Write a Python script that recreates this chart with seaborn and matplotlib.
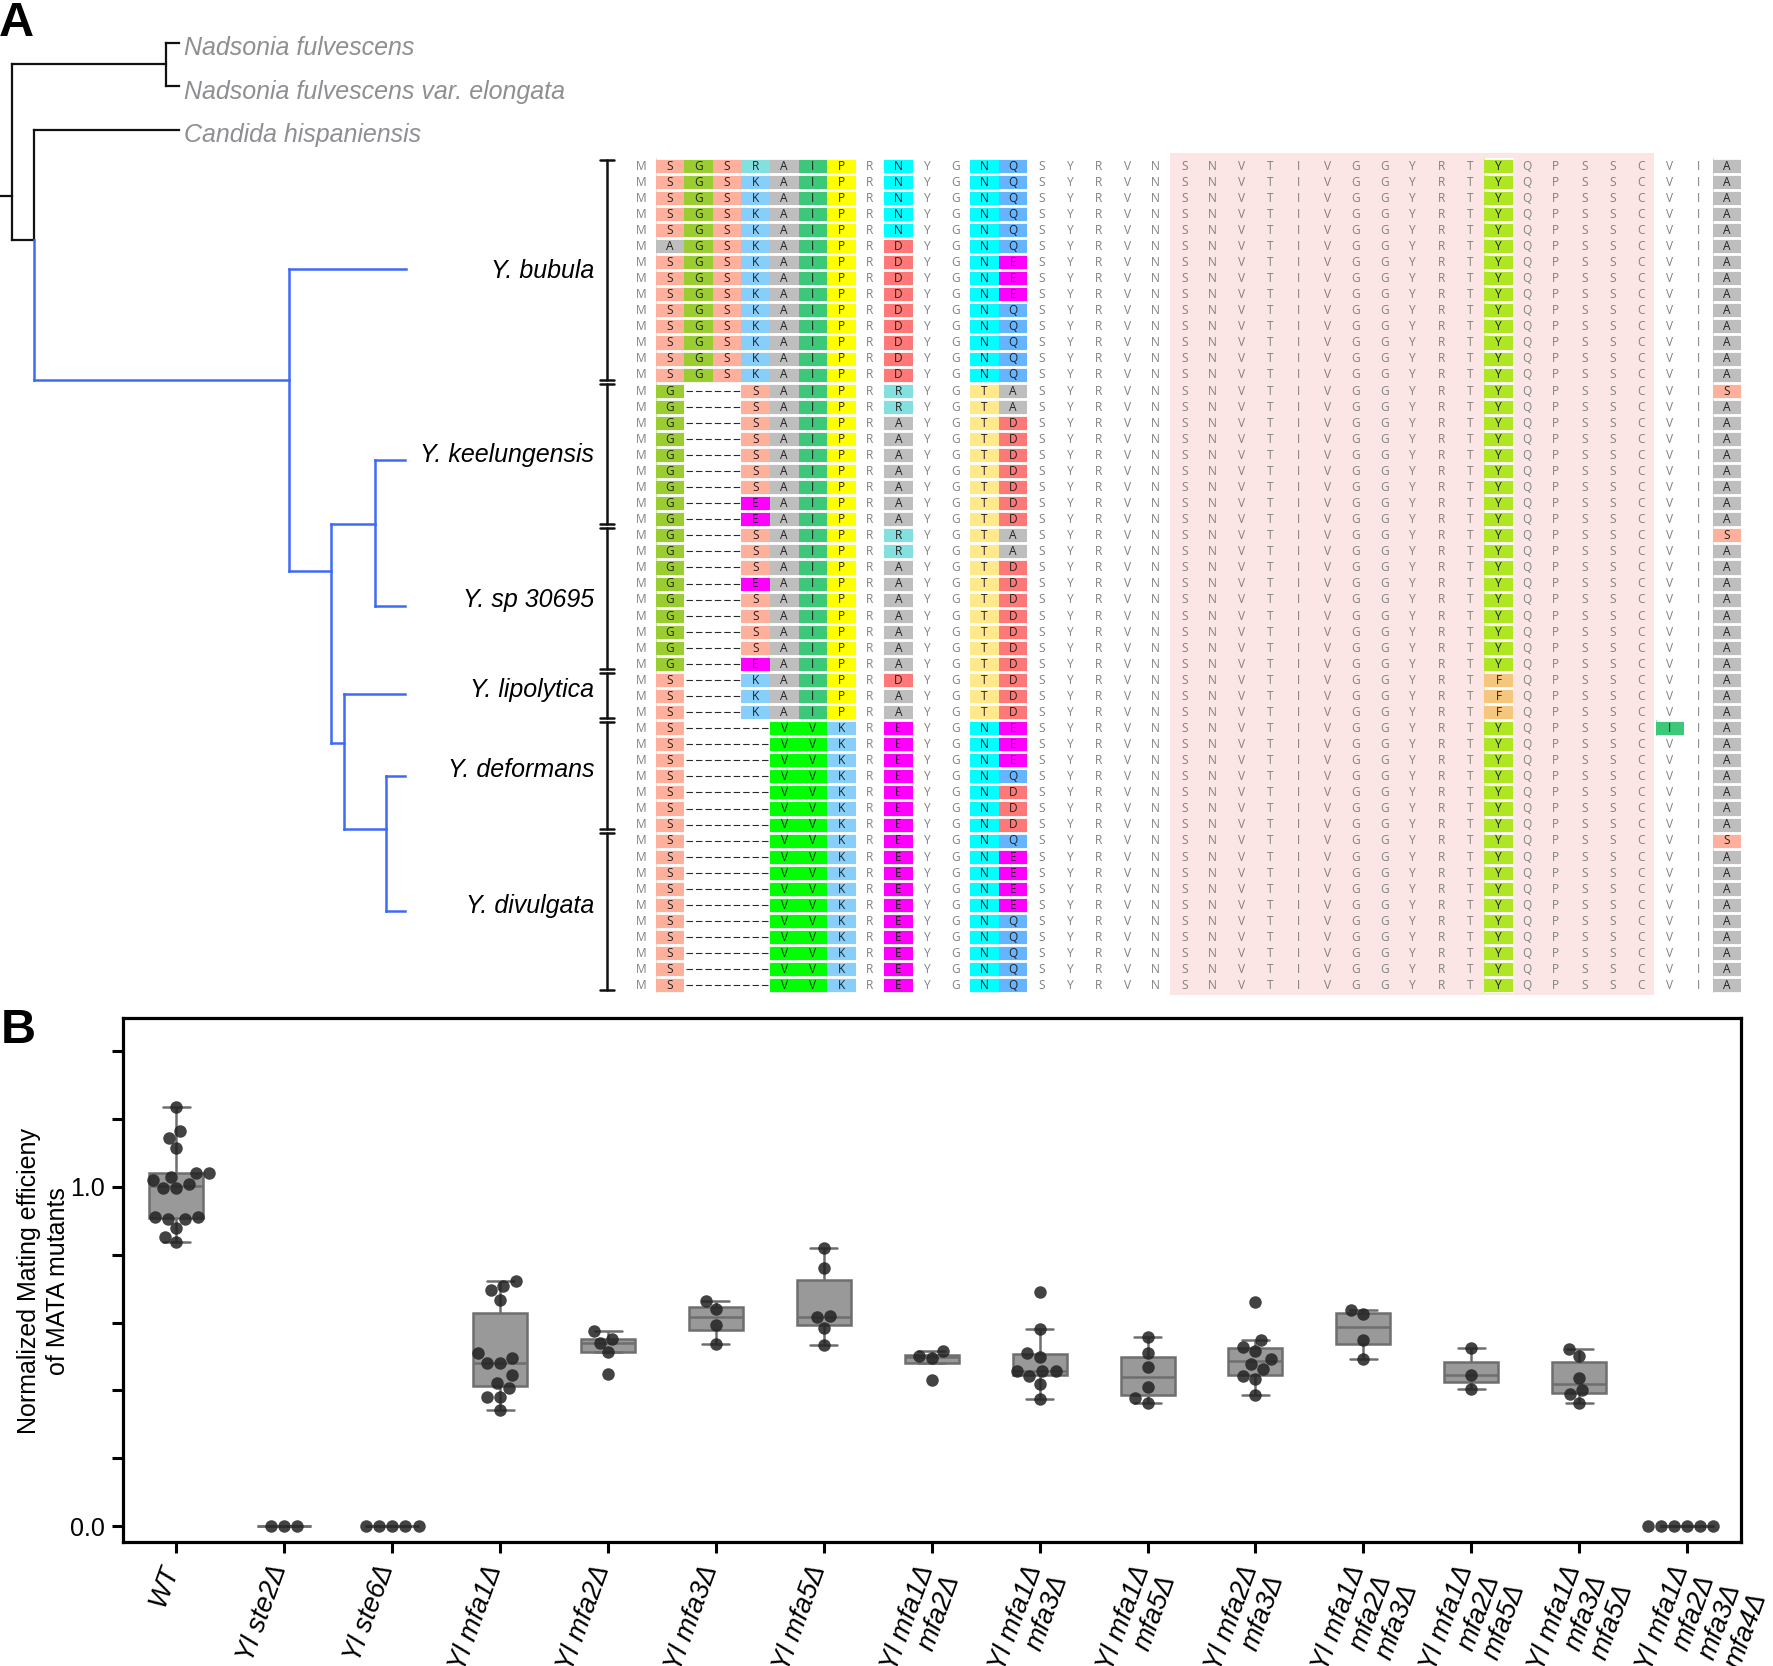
import numpy as np
import pandas as pd
import matplotlib
matplotlib.use("Agg")
import matplotlib.pyplot as plt
from matplotlib.colors import ListedColormap
from matplotlib.patches import Rectangle
from matplotlib.ticker import MultipleLocator, FixedLocator, NullFormatter
from matplotlib.transforms import ScaledTranslation
import seaborn as sns

W, H = 1773, 1666

# ---------- panel A data ----------
ALN_HEAD = (["MSGSRAIPRNYGNQ"] + ["MSGSKAIPRNYGNQ"] * 4 + ["MAGSKAIPRDYGNQ"]
            + ["MSGSKAIPRDYGNE"] * 3 + ["MSGSKAIPRDYGNQ"] * 5
            + ["MG--SAIPRRYGTA"] * 2 + ["MG--SAIPRAYGTD"] * 5 + ["MG--EAIPRAYGTD"] * 2
            + ["MG--SAIPRRYGTA"] * 2 + ["MG--SAIPRAYGTD"] + ["MG--EAIPRAYGTD"]
            + ["MG--SAIPRAYGTD"] * 4 + ["MG--EAIPRAYGTD"]
            + ["MS--KAIPRDYGTD"] + ["MS--KAIPRAYGTD"] * 2
            + ["MS---VVKREYGNE"] * 3 + ["MS---VVKREYGNQ"] + ["MS---VVKREYGND"] * 3
            + ["MS---VVKREYGNQ"] + ["MS---VVKREYGNE"] * 4 + ["MS---VVKREYGNQ"] * 5)
ALN_MID = "SYRVNSNVTIVGGYRT"
ALN_COL30 = ["Y"] * 32 + ["F"] * 3 + ["Y"] * 17
ALN_MID2 = "QPSSC"
ALN_COL36 = ["V"] * 35 + ["I"] + ["V"] * 16
ALN_COL37 = "I"
ALN_COL38 = ["A"] * 14 + ["S"] + ["A"] * 8 + ["S"] + ["A"] * 18 + ["S"] + ["A"] * 9

COLORED_COLS = [1, 2, 3, 4, 5, 6, 7, 9, 12, 13, 30, 38]
COLORED_CELLS = [(35, 36)]
RES_COLORS = {"S": "#FFB09C", "G": "#9ACD32", "R": "#84E0E0", "K": "#87CEFA", "A": "#BEBEBE",
              "I": "#3CC878", "P": "#FFFF00", "N": "#00FFFF", "D": "#FF7878", "Q": "#64B4FF",
              "E": "#FF00FF", "T": "#FFE98B", "V": "#00FF00", "Y": "#AEE623", "F": "#F5C67D"}

BLACK_BRANCHES = [[(0, 173), (11, 173)], [(11, 57), (11, 212)], [(11, 57), (147, 57)],
                  [(147, 38), (147, 76)], [(147, 38), (158, 38)], [(147, 76), (158, 76)],
                  [(11, 212), (30, 212)], [(30, 115), (30, 212)], [(30, 115), (158, 115)]]
BLUE_BRANCHES = [[(30, 212), (30, 336)], [(30, 336), (256, 336)], [(256, 238), (256, 505)],
                 [(256, 238), (359, 238)], [(256, 505), (293, 505)], [(293, 463), (293, 657)],
                 [(293, 463), (332, 463)], [(332, 407), (332, 536)], [(332, 407), (358, 407)],
                 [(332, 536), (358, 536)], [(293, 657), (304, 657)], [(304, 614), (304, 733)],
                 [(304, 614), (358, 614)], [(304, 733), (341, 733)], [(341, 686), (341, 806)],
                 [(341, 686), (358, 686)], [(341, 806), (358, 806)]]
TREE_SCALE = W / 1568

OUTGROUPS = ["Nadsonia fulvescens", "Nadsonia fulvescens var. elongata", "Candida hispaniensis"]
OUTGROUP_Y = [47.5, 91.5, 134.5]
SPECIES = ["Y. bubula", "Y. keelungensis", "Y. sp 30695", "Y. lipolytica", "Y. deformans", "Y. divulgata"]
SPECIES_Y = [270.5, 454.5, 599.5, 689.5, 770, 905.5]
BRACKETS = [(159.5, 380), (384, 524), (528, 669), (673, 717.5), (721.5, 829), (833, 989.5)]

# ---------- panel B data ----------
STRAINS = ["WT", "Yl ste2Δ", "Yl ste6Δ", "Yl mfa1Δ", "Yl mfa2Δ", "Yl mfa3Δ", "Yl mfa5Δ",
           "Yl mfa1Δ\nmfa2Δ", "Yl mfa1Δ\nmfa3Δ", "Yl mfa1Δ\nmfa5Δ", "Yl mfa2Δ\nmfa3Δ",
           "Yl mfa1Δ\nmfa2Δ\nmfa3Δ", "Yl mfa1Δ\nmfa2Δ\nmfa5Δ", "Yl mfa1Δ\nmfa3Δ\nmfa5Δ",
           "Yl mfa1Δ\nmfa2Δ\nmfa3Δ\nmfa4Δ"]
wt = [1.236, 1.165, 1.144, 1.114, 1.04, 1.04, 1.03, 1.02, 1.01, .997, .997, .912, .912, .906, .906, .878, .853, .837]
ste2 = [0, 0, 0]
ste6 = [0, 0, 0, 0, 0]
mfa1 = [.722, .709, .695, .668, .509, .496, .481, .481, .444, .422, .408, .382, .382, .342]
mfa2 = [.574, .553, .541, .513, .448]
mfa3 = [.663, .639, .594, .536]
mfa5 = [.819, .761, .619, .615, .584, .533]
mfa12 = [.515, .501, .496, .432]
mfa13 = [.69, .58, .51, .499, .456, .456, .456, .442, .42, .375]
mfa15 = [.558, .51, .469, .41, .378, .364]
mfa23 = [.66, .548, .527, .515, .494, .479, .464, .441, .434, .386]
mfa123 = [.636, .624, .55, .493]
mfa125 = [.526, .444, .405]
mfa135 = [.522, .5, .437, .401, .388, .362]
mfa1234 = [0, 0, 0, 0, 0, 0]
VALUES = [wt, ste2, ste6, mfa1, mfa2, mfa3, mfa5, mfa12, mfa13, mfa15, mfa23, mfa123, mfa125, mfa135, mfa1234]

# ---------- style ----------
sns.set_style("ticks")
plt.rcParams["font.family"] = ["Liberation Sans", "DejaVu Sans"]
fig = plt.figure(figsize=(W / 100, H / 100), dpi=100, facecolor="white")


def px_axes(left, top, right, bottom, **kw):
    return fig.add_axes([left / W, 1 - bottom / H, (right - left) / W, (bottom - top) / H], **kw)


# ---------- overlay: tree, labels ----------
ov = px_axes(0, 0, W, H)
ov.set_xlim(0, W)
ov.set_ylim(H, 0)
ov.axis("off")
for branches, col, lw in ((BLACK_BRANCHES, "#111111", 1.6), (BLUE_BRANCHES, "#3E6BF5", 1.8)):
    for seg in branches:
        xs = [p[0] * TREE_SCALE for p in seg]
        ys = [p[1] * TREE_SCALE for p in seg]
        ov.plot(xs, ys, color=col, lw=lw, solid_capstyle="projecting")
for name, y in zip(OUTGROUPS, OUTGROUP_Y):
    ov.text(184, y, name, style="italic", fontsize=18, color="#8F8F93", va="center", ha="left")
for name, y in zip(SPECIES, SPECIES_Y):
    ov.text(594, y, name, style="italic", fontsize=18, color="black", va="center", ha="right")
for y0, y1 in BRACKETS:
    ov.plot([607, 607], [y0, y1], color="#111111", lw=1.8)
    for y in (y0, y1):
        ov.plot([600, 614], [y, y], color="#111111", lw=1.8)
ov.text(-1, 36, "A", fontsize=35, fontweight="bold", color="black", ha="left", va="baseline")
ov.text(1, 1043, "B", fontsize=35, fontweight="bold", color="black", ha="left", va="baseline")

# ---------- alignment ----------
rows = [h + ALN_MID + c30 + ALN_MID2 + c36 + ALN_COL37 + c38
        for h, c30, c36, c38 in zip(ALN_HEAD, ALN_COL30, ALN_COL36, ALN_COL38)]
n_rows, n_cols = len(rows), len(rows[0])
res_list = list(RES_COLORS)
codes = np.full((n_rows, n_cols), np.nan)
for r, s in enumerate(rows):
    for c, ch in enumerate(s):
        if ch in RES_COLORS and (c in COLORED_COLS or (r, c) in COLORED_CELLS):
            codes[r, c] = res_list.index(ch)

ax_a = px_axes(627.1, 157.7, 627.1 + 39 * 28.57, 157.7 + 52 * 16.07)
ax_a.set_zorder(1)
ax_a.patch.set_alpha(0)
ax_a.add_patch(Rectangle((19, -0.3), 16.95, 52.4, facecolor="#FBE5E5", edgecolor="none",
                         clip_on=False, zorder=0))
sns.heatmap(pd.DataFrame(codes), mask=np.isnan(codes), cmap=ListedColormap(list(RES_COLORS.values())),
            vmin=-0.5, vmax=len(res_list) - 0.5, cbar=False, xticklabels=False, yticklabels=False,
            ax=ax_a, zorder=1)
for span in ((1, 14), (30, 31), (36, 37), (38, 39)):
    ax_a.hlines(np.arange(0, n_rows + 1), span[0], span[1], color="white", lw=2.0, zorder=2)
for r, s in enumerate(rows):
    for c, ch in enumerate(s):
        if ch == "-":
            continue
        colored = not np.isnan(codes[r, c])
        ax_a.text(c + 0.5, r + 0.52, ch, ha="center", va="center", fontsize=8.6,
                  family=["Open Sans", "DejaVu Sans"], color="#222222" if colored else "#808080",
                  zorder=3)
    g = [i for i, ch in enumerate(s) if ch == "-"]
    if g:
        ax_a.hlines(r + 0.5, g[0] + 0.05, g[-1] + 1, color="#2a2a2a", lw=0.8,
                    linestyles=[(0, (5.8, 2.7))], zorder=3)
for sp in ax_a.spines.values():
    sp.set_visible(False)

# ---------- panel B ----------
df = pd.DataFrame([(s, v) for s, vals in zip(STRAINS, VALUES) for v in vals], columns=["strain", "value"])
ax_b = px_axes(122.5, 1018, 1741, 1542)
sns.boxplot(data=df, x="strain", y="value", order=STRAINS, color="#999999", linecolor="#6e6e6e",
            saturation=1, linewidth=1.8, width=0.5, showfliers=False, ax=ax_b, zorder=2)
sns.swarmplot(data=df, x="strain", y="value", order=STRAINS, color="#222222", alpha=0.85,
              size=9, linewidth=0, ax=ax_b, zorder=4, warn_thresh=1)
ax_b.set_xlim(-0.5, 14.5)
ax_b.set_ylim(-0.047, 1.498)
ax_b.yaxis.set_major_locator(FixedLocator([0, 1]))
ax_b.set_yticklabels(["0.0", "1.0"])
ax_b.yaxis.set_minor_locator(MultipleLocator(0.2))
ax_b.yaxis.set_minor_formatter(NullFormatter())
ax_b.tick_params(axis="y", which="major", length=8, width=2.2, labelsize=18, pad=5, color="black", labelcolor="black")
ax_b.tick_params(axis="y", which="minor", length=8, width=2.2, color="black")
ax_b.tick_params(axis="x", length=8, width=2.2, labelsize=19.5, pad=6, color="black", labelcolor="black")
label_shift = ScaledTranslation(-17 / 100, 0, fig.dpi_scale_trans)
for lab in ax_b.get_xticklabels():
    lab.set(rotation=70, ha="right", va="top", rotation_mode="anchor", style="italic", linespacing=1.08)
    lab.set_transform(lab.get_transform() + label_shift)
for sp in ax_b.spines.values():
    sp.set_visible(True)
    sp.set_linewidth(2.3)
    sp.set_color("black")
ax_b.set_xlabel("")
ax_b.set_ylabel("")
ov.text(43.5, 1281, "Normalized Mating efficieny\nof MATA mutants", rotation=90, fontsize=18,
        ha="center", va="center", linespacing=1.27, color="black")

fig.savefig("out.png", dpi=100)
